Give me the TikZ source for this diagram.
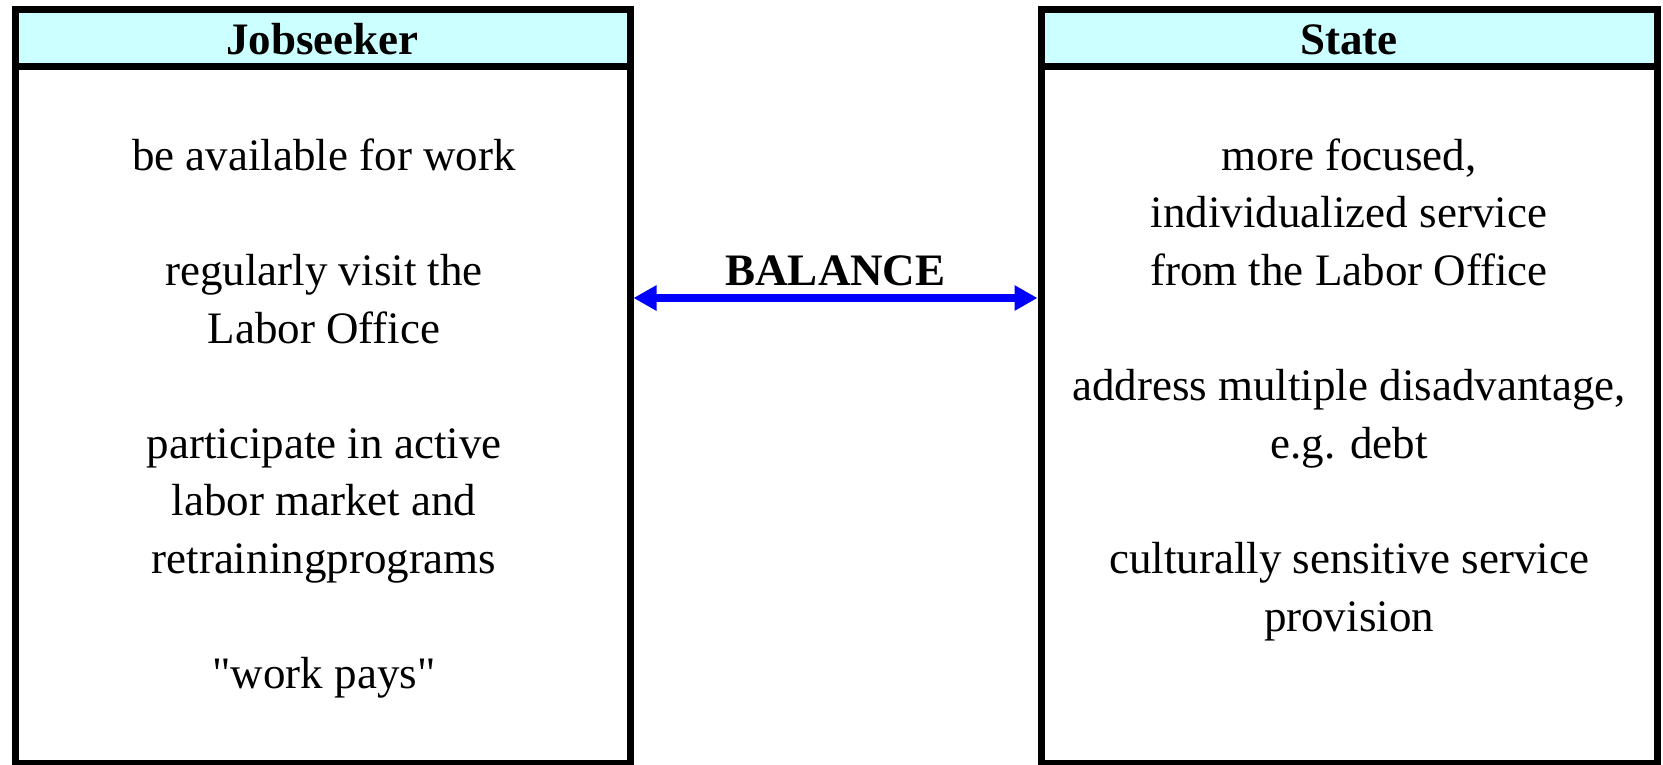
\documentclass[tikz,border=0pt]{standalone}
\usepackage{fontspec}
\setmainfont{Liberation Serif}[Ligatures=TeXOff]
\usetikzlibrary{arrows.meta}
\definecolor{headcyan}{RGB}{204,255,255}
\definecolor{arrblue}{RGB}{0,0,255}
\tikzset{
  frame/.style={draw=black, line width=7pt, inner sep=0pt},
  headbox/.style={frame, fill=headcyan},
  headtext/.style={inner sep=0pt, font=\fontsize{45}{57.6}\selectfont\bfseries},
  bodytext/.style={inner sep=0pt, align=center, anchor=north, font=\fontsize{45}{57.6}\selectfont},
  balarrow/.style={draw=arrblue, line width=8pt, {Triangle[length=23pt,width=24pt]}-{Triangle[length=23pt,width=24pt]}}
}
\newcommand{\firststrut}{\rule{0pt}{40pt}}
\begin{document}
\begin{tikzpicture}[x=1pt,y=-1pt]
\useasboundingbox (0,0) rectangle (1663,765);
\fill[white] (0,0) rectangle (1663,765);
% left box
\node[frame, minimum width=615pt, minimum height=753.5pt] (js) at (322.5,386.25) {};
\node[headbox, minimum width=615pt, minimum height=57.5pt] (jsh) at (322.5,38.25) {};
\node[headtext, anchor=base] (jst) at (322.5,54.5) {Jobseeker};
\node[bodytext] (jsb) at (324,130) {\firststrut be available for work\\[57.6pt]
regularly visit the\\ Labor Office\\[57.6pt]
participate in active\\ labor market and\\ retrainingprograms\\[57.6pt]
"work pays"};
% right box
\node[frame, minimum width=616pt, minimum height=753.5pt] (st) at (1349,386.25) {};
\node[headbox, minimum width=616pt, minimum height=57.5pt] (sth) at (1349,38.25) {};
\node[headtext, anchor=base] (stt) at (1349,54.5) {State};
\node[bodytext] (stb) at (1349,130) {\firststrut more focused,\\ individualized service\\ from the Labor Office\\[57.6pt]
address multiple disadvantage,\\ e.g. debt\\[57.6pt]
culturally sensitive service\\ provision};
% balance arrow
\coordinate (ay) at (0,298);
\draw[balarrow] (js.east |- ay) -- (st.west |- ay);
\node[headtext, anchor=base] (bal) at (835.5,285) {BALANCE};
\end{tikzpicture}
\end{document}
